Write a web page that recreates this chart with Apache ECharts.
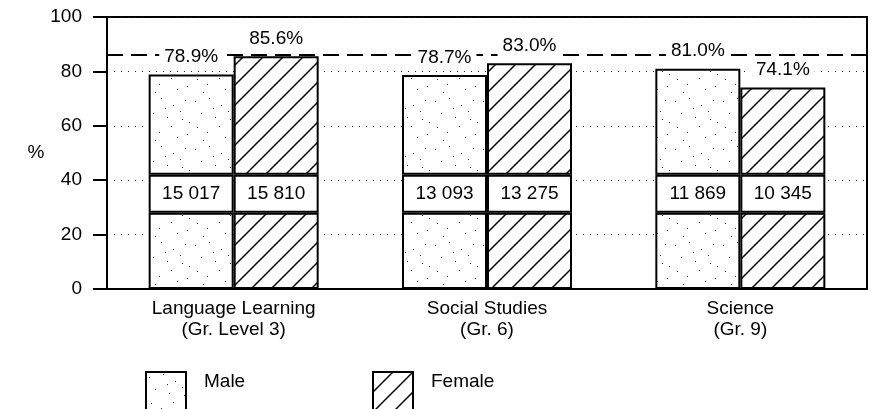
<!DOCTYPE html>
<html><head><meta charset="utf-8">
<script src="https://cdn.jsdelivr.net/npm/echarts@6/dist/echarts.min.js"></script>
<style>html,body{margin:0;padding:0;background:#fff}#c{width:887px;height:409px}</style>
</head><body><div id="c"></div>
<script>
// ---- data ----
const categories = ['Language Learning\n(Gr. Level 3)', 'Social Studies\n(Gr. 6)', 'Science\n(Gr. 9)'];
const malePct = [78.9, 78.7, 81.0];
const femalePct = [85.6, 83.0, 74.1];
const maleCount = [15017, 13093, 11869];
const femaleCount = [15810, 13275, 10345];
const referenceLine = [86];
const yTicks = [0, 20, 40, 60, 80, 100];

// ---- layout constants (count box band, in axis units) ----
const BOX_LOW = 28, BOX_HIGH = 42;
const FONT = "'Liberation Sans', Arial, Helvetica, sans-serif";
const FS = 19;

function hatch() {
  const c = document.createElement('canvas'); c.width = 20; c.height = 20;
  const g = c.getContext('2d');
  g.fillStyle = '#fff'; g.fillRect(0, 0, 20, 20);
  g.strokeStyle = '#000'; g.lineWidth = 1.5;
  [[-10, 10, 10, -10], [0, 20, 20, 0], [10, 30, 30, 10]].forEach(l => {
    g.beginPath(); g.moveTo(l[0], l[1]); g.lineTo(l[2], l[3]); g.stroke();
  });
  return c;
}
function stipple() {
  const c = document.createElement('canvas'); c.width = 48; c.height = 48;
  const g = c.getContext('2d');
  g.fillStyle = '#fff'; g.fillRect(0, 0, 48, 48);
  g.fillStyle = '#333';
  const dots = [[3,5],[17,2],[29,9],[41,4],[9,17],[23,21],[36,15],[45,26],[5,31],[15,36],[27,30],[33,41],[43,38],[11,44],[21,12],[38,23]];
  dots.forEach(d => g.fillRect(d[0], d[1], 1, 1));
  return c;
}
const maleFill = { image: stipple(), repeat: 'repeat' };
const femaleFill = { image: hatch(), repeat: 'repeat' };
const fmt = n => String(n).replace(/\B(?=(\d{3})+(?!\d))/g, ' ');

function segs(name, stack, pct, counts, fill) {
  const base = { name, type: 'bar', stack, barWidth: 85, barGap: '0%', z: 2,
    itemStyle: { color: fill, borderColor: '#000', borderWidth: 2 } };
  return [
    Object.assign({}, base, { data: pct.map(() => BOX_LOW) }),
    Object.assign({}, base, {
      data: pct.map(() => BOX_HIGH - BOX_LOW),
      itemStyle: { color: '#fff', borderColor: '#000', borderWidth: 2 },
      label: { show: true, position: 'inside', color: '#000', fontSize: FS, fontFamily: FONT,
        formatter: p => fmt(counts[p.dataIndex]) }
    }),
    Object.assign({}, base, {
      data: pct.map(v => v - BOX_HIGH),
      label: { show: true, position: 'top', distance: 7, color: '#000', fontSize: FS, fontFamily: FONT,
        backgroundColor: '#fff', padding: [1, 5],
        formatter: p => pct[p.dataIndex].toFixed(1) + '%' }
    })
  ];
}

const legendCommon = { top: 365, itemWidth: 40, itemHeight: 44, icon: 'rect', selectedMode: false,
  itemStyle: { borderColor: '#000', borderWidth: 2 },
  formatter: n => n + '\n\u00a0',
  textStyle: { fontSize: FS, lineHeight: 24, color: '#000', fontFamily: FONT, padding: [0, 0, 0, 13] } };

const chart = echarts.init(document.getElementById('c'), null, { renderer: 'canvas' });
chart.setOption({
  animation: false,
  backgroundColor: '#fff',
  textStyle: { fontFamily: FONT },
  grid: { left: 107, right: 20, top: 17, bottom: 120, show: true, borderColor: '#000', borderWidth: 2 },
  legend: [
    Object.assign({ data: ['Male'], left: 140 }, legendCommon),
    Object.assign({ data: ['Female'], left: 367 }, legendCommon)
  ],
  xAxis: {
    type: 'category', data: categories,
    axisLine: { lineStyle: { color: '#000', width: 2 } },
    axisTick: { show: false },
    axisLabel: { color: '#000', fontSize: FS, lineHeight: 21, margin: 9, fontFamily: FONT }
  },
  yAxis: {
    type: 'value', min: yTicks[0], max: yTicks[yTicks.length - 1], interval: yTicks[1] - yTicks[0],
    name: '%', nameLocation: 'middle', nameRotate: 0, nameGap: 53,
    nameTextStyle: { color: '#000', fontSize: FS, fontFamily: FONT },
    axisLine: { show: true, lineStyle: { color: '#000', width: 2 } },
    axisTick: { show: true, length: 14, lineStyle: { color: '#000', width: 2 } },
    axisLabel: { color: '#000', fontSize: FS, margin: 25, fontFamily: FONT },
    splitLine: { show: true, lineStyle: { color: '#222', width: 1, type: [1, 6] } }
  },
  series: [
    { type: 'line', data: [], z: 1, silent: true,
      markLine: { z: 1, symbol: 'none', silent: true, label: { show: false },
        lineStyle: { color: '#000', width: 2, type: [16, 8] },
        data: referenceLine.map(v => ({ yAxis: v })) } },
    ...segs('Male', 'm', malePct, maleCount, maleFill),
    ...segs('Female', 'f', femalePct, femaleCount, femaleFill)
  ]
});
</script>
</body></html>
